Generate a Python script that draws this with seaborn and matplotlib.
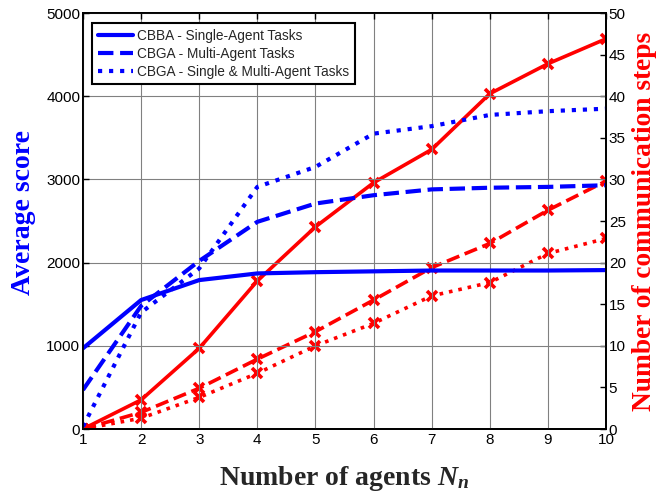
import numpy as np
import pandas as pd
import matplotlib
matplotlib.use("Agg")
import matplotlib.pyplot as plt
import seaborn as sns

# Number of agents
agents = [1, 2, 3, 4, 5, 6, 7, 8, 9, 10]

# Average score (left axis)
score_cbba_single = [970, 1550, 1790, 1870, 1885, 1895, 1905, 1905, 1905, 1910]
score_cbga_multi = [470, 1480, 2020, 2490, 2710, 2810, 2880, 2900, 2910, 2930]
score_cbga_mixed = [30, 1400, 1930, 2910, 3150, 3550, 3640, 3775, 3820, 3850]

# Number of communication steps (right axis)
comm_cbba_single = [0, 3.5, 9.7, 17.8, 24.3, 29.6, 33.6, 40.3, 43.9, 46.9]
comm_cbga_multi = [0, 2.0, 4.9, 8.4, 11.7, 15.5, 19.4, 22.3, 26.3, 29.8]
comm_cbga_mixed = [0, 1.3, 3.8, 6.7, 10.0, 12.7, 16.0, 17.6, 21.1, 22.9]

legend_labels = ["CBBA - Single-Agent Tasks",
                 "CBGA - Multi-Agent Tasks",
                 "CBGA - Single & Multi-Agent Tasks"]

sns.set_theme(style="white")
plt.rcParams["font.family"] = ["Liberation Sans", "DejaVu Sans"]
plt.rcParams["mathtext.fontset"] = "custom"
plt.rcParams["mathtext.it"] = "Liberation Serif:bold:italic"
plt.rcParams["mathtext.rm"] = "Liberation Serif:bold"
plt.rcParams["mathtext.bf"] = "Liberation Serif:bold"

fig = plt.figure(figsize=(6.57, 4.93), dpi=100)
ax = fig.add_axes([0.1263, 0.1298, 0.7961, 0.8438])
ax2 = ax.twinx()

df = pd.DataFrame({
    "agents": agents,
    "s1": score_cbba_single, "s2": score_cbga_multi, "s3": score_cbga_mixed,
    "c1": comm_cbba_single, "c2": comm_cbga_multi, "c3": comm_cbga_mixed,
})

styles = ["-", "--", ":"]
blue = "#0000ff"
red = "#ff0000"

for col, ls, lab in zip(["s1", "s2", "s3"], styles, legend_labels):
    sns.lineplot(data=df, x="agents", y=col, ax=ax, color=blue,
                 linestyle=ls, linewidth=3, label=lab, legend=False)

for col, ls in zip(["c1", "c2", "c3"], styles):
    sns.lineplot(data=df, x="agents", y=col, ax=ax2, color=red,
                 linestyle=ls, linewidth=2.6, marker="x", markersize=7.5,
                 markeredgewidth=2.6, markeredgecolor=red, legend=False)

ax.set_xlim(1, 10)
ax.set_ylim(0, 5000)
ax2.set_ylim(0, 50)
ax.set_xticks(range(1, 11))
ax.set_yticks(range(0, 5001, 1000))
ax2.set_yticks(range(0, 51, 5))

ax.grid(True, color="#808080", linewidth=0.8)
ax.set_axisbelow(True)

for a in (ax, ax2):
    for s in a.spines.values():
        s.set_color("black")
        s.set_linewidth(1.3)
    a.tick_params(direction="in", length=4, width=1, colors="black",
                  labelsize=11, pad=2)
ax.tick_params(axis="x", top=True, pad=3)
ax2.tick_params(axis="x", top=True)

serif = ["Liberation Serif", "DejaVu Serif"]
ax.set_xlabel(r"Number of agents $N_n$", fontsize=20,
              fontweight="bold", family=serif, labelpad=12)
ax.set_ylabel("Average score", fontsize=20, fontweight="bold",
              family=serif, color=blue)
ax.yaxis.set_label_coords(-0.090, 0.52)
ax2.set_ylabel("Number of communication steps", fontsize=19.7,
               fontweight="bold", family=serif, color=red)
ax2.yaxis.set_label_coords(1.050, 0.5)

leg = ax.legend(loc="upper left", bbox_to_anchor=(0.018, 0.975),
                borderaxespad=0, fontsize=9.8, handlelength=2.55,
                handletextpad=0.35, labelspacing=0.3, borderpad=0.4,
                fancybox=False, framealpha=1, edgecolor="black")
leg.get_frame().set_linewidth(1.5)
ax.set_zorder(ax2.get_zorder() + 1)
ax.patch.set_visible(False)

fig.savefig("out.png", dpi=100)
